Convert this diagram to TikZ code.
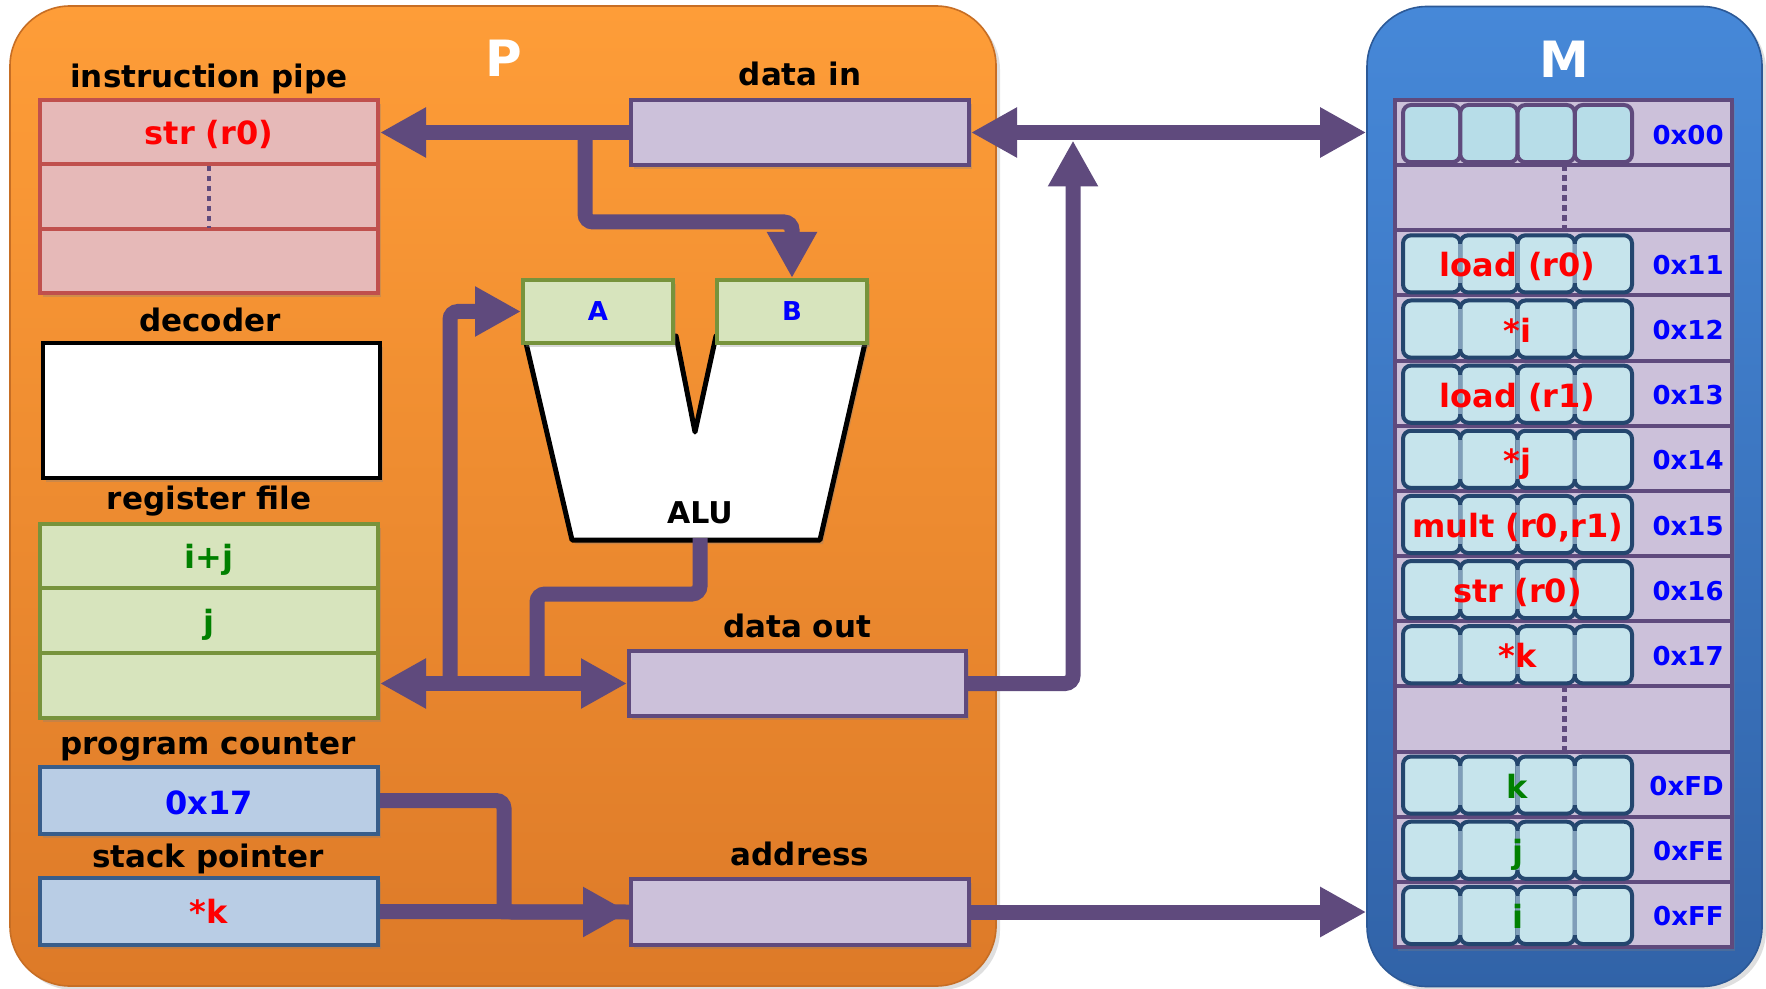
\documentclass[tikz,border=0pt]{standalone}
\usepackage{fontspec}
\setmainfont{DejaVu Sans}
\usetikzlibrary{arrows.meta,shadows}
\definecolor{purp}{HTML}{5F4A7D}
\definecolor{lav}{HTML}{CCC1DA}
\definecolor{pinkf}{HTML}{E6B9B8}
\definecolor{pinkd}{HTML}{C0504D}
\definecolor{grnf}{HTML}{D7E4BD}
\definecolor{grnd}{HTML}{77933C}
\definecolor{bluf}{HTML}{B9CDE5}
\definecolor{blud}{HTML}{385D8A}
\definecolor{orT}{HTML}{FE9D38}
\definecolor{orB}{HTML}{DD7A28}
\definecolor{mT}{HTML}{4688D8}
\definecolor{mB}{HTML}{3163A8}
\definecolor{cellf}{HTML}{C6E4EC}
\definecolor{cellf0}{HTML}{B7DDE8}
\definecolor{celld}{HTML}{24466E}
\definecolor{celli}{HTML}{7F9DB9}
\definecolor{txtred}{HTML}{FF0000}
\definecolor{txtblue}{HTML}{0000FF}
\definecolor{txtgreen}{HTML}{008000}
\newcommand{\fsz}[1]{\fontsize{#1}{#1}\selectfont\bfseries}
\begin{document}
\begin{tikzpicture}[x=0.5pt,y=-0.5pt,
  >={Triangle[length=23pt,width=23.5pt]},
  shad/.style={drop shadow={opacity=0.3,shadow xshift=1.5pt,shadow yshift=-2pt}},
  regbox/.style={inner sep=0pt,line width=2pt,shad},
  pinkbox/.style={regbox,fill=pinkf,draw=pinkd},
  lavbox/.style={regbox,fill=lav,draw=purp},
  grnbox/.style={regbox,fill=grnf,draw=grnd},
  blubox/.style={regbox,fill=bluf,draw=blud},
  lbl/.style={anchor=base,font=\fsz{15.5},text=black,inner sep=0pt},
  ttl/.style={anchor=base,font=\fsz{25},text=white,inner sep=0pt},
  rtxt/.style={anchor=base,font=\fsz{16},text=txtred,inner sep=0pt},
  btxt/.style={anchor=base,font=\fsz{16},text=txtblue,inner sep=0pt},
  gtxt/.style={anchor=base,font=\fsz{16},text=txtgreen,inner sep=0pt},
  addr/.style={anchor=base east,font=\fsz{13},text=txtblue,inner sep=0pt},
  arr/.style={draw=purp,line width=7.5pt},
  dots/.style={draw=purp,line width=2.5pt,dash pattern=on 2.75pt off 2.25pt}
]
\useasboundingbox (0,0) rectangle (1766,989);
\fill[white] (0,0) rectangle (1766,989);

% processor and memory frames
\node[inner sep=0pt,top color=orT,bottom color=orB,draw=orB!90!black,line width=0.8pt,rounded corners=30pt,
      minimum width=493pt,minimum height=490pt,drop shadow={opacity=0.25,shadow xshift=2pt,shadow yshift=-2pt}] (P) at (503,496) {};
\node[inner sep=0pt,top color=mT,bottom color=mB,draw=mB!90!black,line width=0.8pt,rounded corners=30pt,
      minimum width=197.5pt,minimum height=490pt,drop shadow={opacity=0.25,shadow xshift=2pt,shadow yshift=-2pt}] (M) at (1564.5,496.5) {};
\node[ttl] (Pt) at (504,77) {P};
\node[ttl] (Mt) at (1564,78) {M};

% memory array
\node[inner sep=0pt,draw=purp,fill=lav,line width=2pt,minimum width=168.5pt,minimum height=423.5pt,shad] (mem) at (1563.5,523.5) {};
\foreach \k in {1,...,12}
  \draw[purp,line width=2pt] (1395,{100+65.154*\k}) -- (1732,{100+65.154*\k});
\foreach \c in {0,1,2,3}
  \draw[rounded corners=4pt,fill=cellf0,draw=purp,line width=2pt]
    ({1403+57.25*\c},105) rectangle ({1403+57.25*(\c+1)},{100+65.154-3});
\foreach \r in {2,3,4,5,6,7,8,10,11,12}{
  \foreach \c in {0,1,2,3}
    \draw[rounded corners=4pt,fill=cellf,draw=celld,line width=2pt]
      ({1403+57.25*\c},{100+65.154*\r+5}) rectangle ({1403+57.25*(\c+1)},{100+65.154*(\r+1)-3});
  \foreach \c in {1,2,3}
    \draw[celli,line width=2pt] ({1403+57.25*\c},{100+65.154*\r+14}) -- ({1403+57.25*\c},{100+65.154*(\r+1)-12});
}
\draw[dots] (1564,{100+65.154}) -- (1564,{100+65.154*2});
\draw[dots] (1564,{100+65.154*9}) -- (1564,{100+65.154*10});
\foreach \r/\a in {0/0x00,2/0x11,3/0x12,4/0x13,5/0x14,6/0x15,7/0x16,8/0x17,10/0xFD,11/0xFE,12/0xFF}
  \node[addr] (a\r) at (1724,{100+65.154*(\r+0.5)+11.5}) {\a};
\foreach \r/\t in {2/{load (r0)},3/{*i},4/{load (r1)},5/{*j},6/{mult (r0,r1)},7/{str (r0)},8/{*k}}
  \node[rtxt] (c\r) at (1517.5,{100+65.154*(\r+0.5)+14}) {\t};
\foreach \r/\t in {10/k,11/j,12/i}
  \node[gtxt] (c\r) at (1517.5,{100+65.154*(\r+0.5)+14}) {\t};

% instruction pipe
\node[lbl] (lpipe) at (209,88) {instruction pipe};
\node[pinkbox,minimum width=169pt,minimum height=96.5pt] (pipe) at (209,196.5) {};
\draw[pinkd,line width=2pt] (40,164) -- (378,164) (40,229) -- (378,229);
\draw[purp,line width=2pt,dash pattern=on 2.5pt off 2.5pt] (209,166) -- (209,228);
\node[rtxt] (pipetxt) at (209,145) {str (r0)};

% decoder
\node[lbl] (ldec) at (210,332) {decoder};
\node[regbox,fill=white,draw=black,minimum width=168.5pt,minimum height=67.5pt] (decoder) at (211.5,410.5) {};

% register file
\node[lbl] (lreg) at (209,509) {register file};
\node[grnbox,minimum width=169pt,minimum height=97pt] (regfile) at (209,621) {};
\draw[grnd,line width=2pt] (40,588) -- (378,588) (40,653) -- (378,653);
\node[gtxt] (r1) at (209,568) {i+j};
\node[gtxt] (r2) at (209,633) {j};

% program counter / stack pointer
\node[lbl] (lpc) at (208,754) {program counter};
\node[blubox,minimum width=169pt,minimum height=33.5pt] (pc) at (209,800.5) {};
\node[btxt] (pctxt) at (209,814) {0x17};
\node[lbl] (lsp) at (208,867) {stack pointer};
\node[blubox,minimum width=169pt,minimum height=33.5pt] (sp) at (209,911.5) {};
\node[rtxt] (sptxt) at (209,923) {*k};

% data in / data out / address
\node[lbl] (ldin) at (800,86) {data in};
\node[lavbox,minimum width=169pt,minimum height=32.5pt] (datain) at (800,132.5) {};
\node[lbl] (ldout) at (797,637) {data out};
\node[lavbox,minimum width=168.5pt,minimum height=32.5pt] (dataout) at (797.5,683.5) {};
\node[lbl] (laddr) at (800,865) {address};
\node[lavbox,minimum width=169pt,minimum height=33pt] (address) at (800,912) {};

% ALU
\draw[line width=2.5pt,fill=white,line join=round,shad]
  (525.3,340) -- (572,540) -- (820,540) -- (865.7,340) -- (716,336) -- (695,432) -- (676,336) -- cycle;
\node[lbl,font=\fsz{15}] (alu) at (700,523) {ALU};
\node[grnbox,minimum width=75pt,minimum height=31.5pt,font=\fsz{13},text=txtblue] (A) at (598,311.5) {A};
\node[grnbox,minimum width=75pt,minimum height=31.5pt,font=\fsz{13},text=txtblue] (B) at (792,311.5) {B};

% connectors
\coordinate (j1) at (585,132.5);
\coordinate (j2) at (585,222);
\coordinate (up) at (1073,140.5);
\coordinate (bA) at (450,683.5);
\coordinate (aluout) at (700,538);
\coordinate (aluk) at (700,594);
\coordinate (bO) at (537,683.5);
\coordinate (pcx) at (504,800.5);

\draw[arr,->] (datain.west) -- (datain.west -| pipe.east);
\draw[arr,->,rounded corners=4pt] (j1) -- (j2) -| (B.north);
\draw[arr,<->] (datain.east) -- (datain.east -| M.west);
\draw[arr,->,rounded corners=4pt] (dataout.east) -| (up);
\draw[arr,rounded corners=4pt] (aluout) -- (aluk) -| (bO);
\draw[arr,->,rounded corners=4pt] (bA) |- (A.west);
\draw[arr,<->] (dataout.west -| regfile.east) -- (dataout.west);
\draw[arr] (sp.east) -- (address.west);
\draw[arr,->,rounded corners=4pt] (pc.east) -- (pcx) |- (address.west);
\draw[arr,->] (address.east) -- (address.east -| M.west);
\end{tikzpicture}
\end{document}
